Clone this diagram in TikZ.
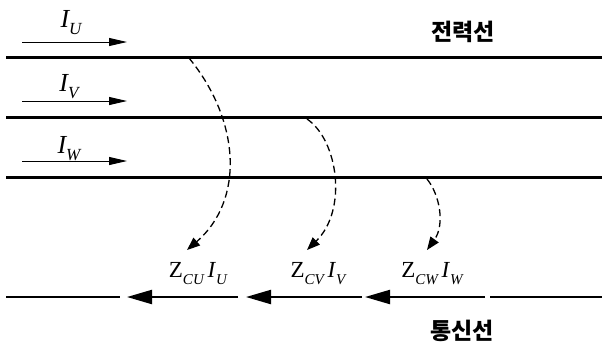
\documentclass[tikz,border=0pt]{standalone}
\usepackage{fontspec}
\setmainfont{Liberation Serif}
\newfontfamily\kr{Noto Sans CJK KR}
\usetikzlibrary{arrows.meta}
\newcommand{\sbs}[2][17]{\raisebox{-7pt}{\fontsize{#1}{#1}\selectfont\itshape #2}}
\begin{document}
\begin{tikzpicture}[x=1pt,y=-1pt,
  pline/.style={line width=3pt},
  cline/.style={line width=2.2pt},
  bigarrow/.style={cline,-{Triangle[length=25pt,width=14pt]}},
  curarrow/.style={line width=0.9pt,-{Triangle[length=18pt,width=8pt]}},
  coup/.style={line width=1.3pt,dash pattern=on 7pt off 4pt,-{Triangle[length=13pt,width=10pt]}},
  cur/.style={font=\fontsize{26}{26}\selectfont\itshape,inner sep=0pt},
  zlab/.style={font=\fontsize{23}{23}\selectfont,inner sep=0pt},
  krlab/.style={font=\fontsize{23}{23}\selectfont\kr\bfseries,inner sep=0pt}]
\useasboundingbox (0,0) rectangle (602,349);
% power lines
\coordinate (u1) at (6,57);  \coordinate (u2) at (602,57);
\coordinate (v1) at (6,117); \coordinate (v2) at (602,117);
\coordinate (w1) at (6,177); \coordinate (w2) at (602,177);
\draw[pline] (u1) -- (u2);
\draw[pline] (v1) -- (v2);
\draw[pline] (w1) -- (w2);
% current arrows
\coordinate (au1) at (22,42);  \coordinate (au2) at (127,42);
\coordinate (av1) at (22,101); \coordinate (av2) at (127,101);
\coordinate (aw1) at (22,161); \coordinate (aw2) at (127,161);
\draw[curarrow] (au1) -- (au2);
\draw[curarrow] (av1) -- (av2);
\draw[curarrow] (aw1) -- (aw2);
\node[cur] (iu) at (71,23) {I\sbs{U}};
\node[cur] (iv) at (69,87) {I\sbs{V}};
\node[cur] (iw) at (69,149) {I\sbs{W}};
\node[krlab] (pw) at (463,32) {전력선};
% coupling curves
\coordinate (s1) at (189,58); \coordinate (e1) at (187,250);
\coordinate (s2) at (307,119); \coordinate (e2) at (307,250);
\coordinate (s3) at (427,179); \coordinate (e3) at (427,250);
\draw[coup] (s1) .. controls (240,120) and (245,200) .. (e1);
\draw[coup] (s2) .. controls (338,140) and (348,210) .. (e2);
\draw[coup] (s3) .. controls (440,195) and (445,225) .. (e3);
% labels
\node[zlab] (zu) at (198,274) {Z\sbs[15]{CU}\,\textit{I}\sbs[15]{U}};
\node[zlab] (zv) at (318,274) {Z\sbs[15]{CV}\,\textit{I}\sbs[15]{V}};
\node[zlab] (zw) at (432,274) {Z\sbs[15]{CW}\,\textit{I}\sbs[15]{W}};
% communication line
\coordinate (c0) at (6,297);   \coordinate (c1) at (120,297);
\coordinate (t1) at (127,297); \coordinate (b1) at (238,297);
\coordinate (t2) at (246,297); \coordinate (b2) at (362,297);
\coordinate (t3) at (365,297); \coordinate (b3) at (485,297);
\coordinate (c4) at (490,297); \coordinate (c5) at (602,297);
\draw[cline] (c0) -- (c1);
\draw[bigarrow] (b1) -- (t1);
\draw[bigarrow] (b2) -- (t2);
\draw[bigarrow] (b3) -- (t3);
\draw[cline] (c4) -- (c5);
\node[krlab] (cm) at (462,331) {통신선};
\end{tikzpicture}
\end{document}
